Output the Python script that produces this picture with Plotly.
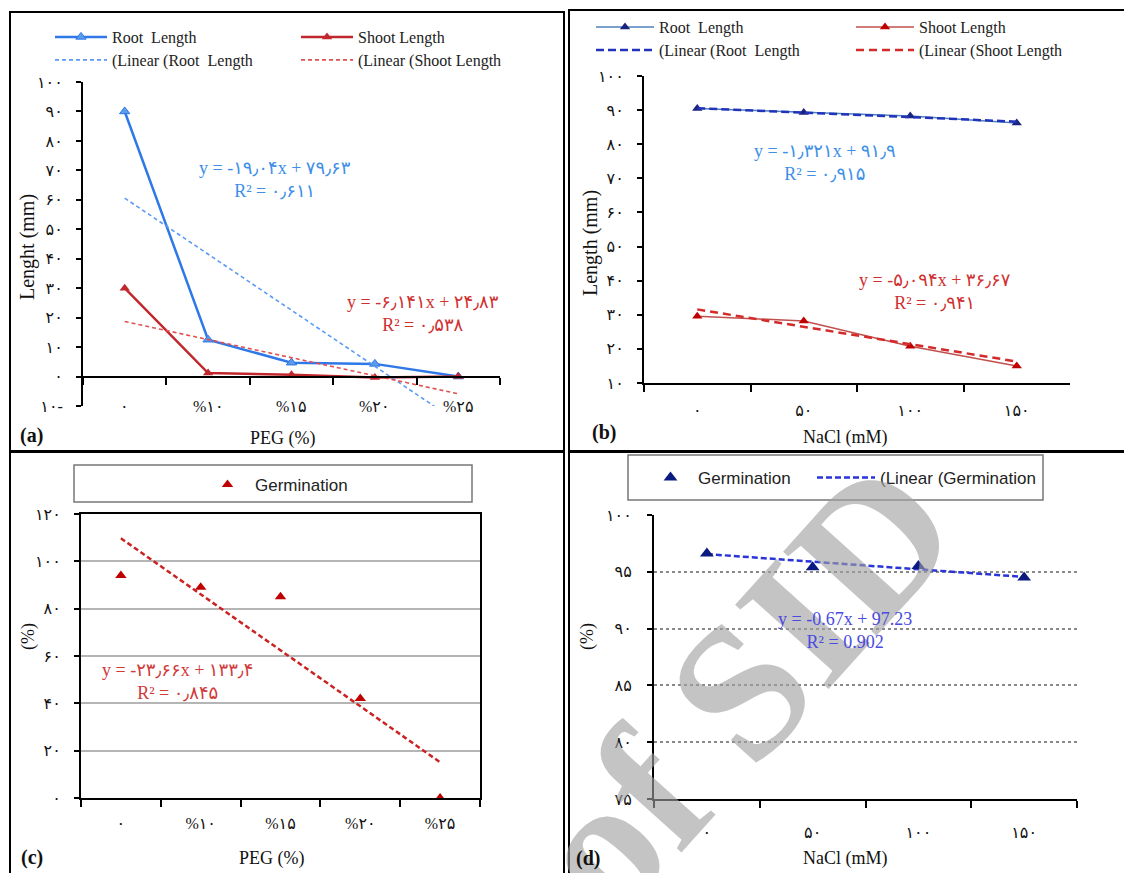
import plotly.graph_objects as go

W, H = 1124, 873

# ---------------- data ----------------
peg_labels = ["۰", "%۱۰", "%۱۵", "%۲۰", "%۲۵"]
nacl_labels = ["۰", "۵۰", "۱۰۰", "۱۵۰"]

root_peg = [90, 12.5, 4.7, 4.3, 0]
shoot_peg = [30, 1.2, 0.6, -0.3, 0]
root_peg_trend = [60.59, 41.55, 22.51, 3.47, -15.57]
shoot_peg_trend = [18.69, 12.55, 6.41, 0.27, -5.88]

root_nacl = [90.5, 89.3, 88.3, 86.2]
shoot_nacl = [29.6, 28.2, 20.8, 15.0]
root_nacl_trend = [90.58, 89.26, 87.94, 86.62]
shoot_nacl_trend = [31.58, 26.48, 21.39, 16.29]

germ_peg = [94, 89, 85, 42, 0]
germ_peg_trend = [109.74, 86.08, 62.42, 38.76, 15.10]

germ_nacl = [96.6, 95.4, 95.5, 94.5]
germ_nacl_trend = [96.56, 95.89, 95.22, 94.55]

a_yvals = [-10, 0, 10, 20, 30, 40, 50, 60, 70, 80, 90, 100]
a_ytext = ["۱۰-", "۰", "۱۰", "۲۰", "۳۰", "۴۰", "۵۰", "۶۰", "۷۰", "۸۰", "۹۰", "۱۰۰"]
b_yvals = [10, 20, 30, 40, 50, 60, 70, 80, 90, 100]
b_ytext = ["۱۰", "۲۰", "۳۰", "۴۰", "۵۰", "۶۰", "۷۰", "۸۰", "۹۰", "۱۰۰"]
c_yvals = [0, 20, 40, 60, 80, 100, 120]
c_ytext = ["۰", "۲۰", "۴۰", "۶۰", "۸۰", "۱۰۰", "۱۲۰"]
d_yvals = [75, 80, 85, 90, 95, 100]
d_ytext = ["۷۵", "۸۰", "۸۵", "۹۰", "۹۵", "۱۰۰"]


def px(p):
    return p / W


def py(p):
    return 1 - p / H


SERIF = "Liberation Serif, DejaVu Sans, serif"
SANS = "Liberation Sans, DejaVu Sans, sans-serif"
TICKFONT = dict(family=SERIF, size=16, color="#111")

fig = go.Figure()

# ---------------- panel a ----------------
fig.add_trace(go.Scatter(x=peg_labels, y=root_peg, mode="lines+markers", name="Root  Length",
                         line=dict(color="#2f78e8", width=2.5),
                         marker=dict(symbol="triangle-up", size=9, color="#5b9be8", line=dict(color="#2f78e8", width=1)),
                         xaxis="x", yaxis="y", legend="legend"))
fig.add_trace(go.Scatter(x=peg_labels, y=shoot_peg, mode="lines+markers", name="Shoot Length",
                         line=dict(color="#c0282d", width=2.5),
                         marker=dict(symbol="triangle-up", size=9, color="#c0282d"),
                         xaxis="x", yaxis="y", legend="legend2"))
fig.add_trace(go.Scatter(x=peg_labels, y=root_peg_trend, mode="lines", name="(Linear (Root  Length",
                         line=dict(color="#5b9bf5", width=1.6, dash="4px,3px"),
                         xaxis="x", yaxis="y", legend="legend3"))
fig.add_trace(go.Scatter(x=peg_labels, y=shoot_peg_trend, mode="lines", name="(Linear (Shoot Length",
                         line=dict(color="#e05050", width=1.6, dash="4px,3px"),
                         xaxis="x", yaxis="y", legend="legend4"))

# ---------------- panel b ----------------
fig.add_trace(go.Scatter(x=nacl_labels, y=root_nacl, mode="lines+markers", name="Root  Length",
                         line=dict(color="#4f81bd", width=1.5),
                         marker=dict(symbol="triangle-up", size=9, color="#1a237e"),
                         xaxis="x2", yaxis="y2", legend="legend5"))
fig.add_trace(go.Scatter(x=nacl_labels, y=shoot_nacl, mode="lines+markers", name="Shoot Length",
                         line=dict(color="#c0504d", width=1.5),
                         marker=dict(symbol="triangle-up", size=9, color="#c00000"),
                         xaxis="x2", yaxis="y2", legend="legend6"))
fig.add_trace(go.Scatter(x=nacl_labels, y=root_nacl_trend, mode="lines", name="(Linear (Root  Length",
                         line=dict(color="#2233bb", width=2.5, dash="8px,4px"),
                         xaxis="x2", yaxis="y2", legend="legend7"))
fig.add_trace(go.Scatter(x=nacl_labels, y=shoot_nacl_trend, mode="lines", name="(Linear (Shoot Length",
                         line=dict(color="#d42a2a", width=2.5, dash="8px,5px"),
                         xaxis="x2", yaxis="y2", legend="legend8"))

# ---------------- panel c ----------------
fig.add_trace(go.Scatter(x=peg_labels, y=germ_peg_trend, mode="lines", name="Linear (Germination)",
                         line=dict(color="#cc2222", width=2.5, dash="5px,3px"),
                         xaxis="x3", yaxis="y3", showlegend=False))
fig.add_trace(go.Scatter(x=peg_labels, y=germ_peg, mode="markers", name="Germination",
                         marker=dict(symbol="triangle-up", size=10, color="#c00000"),
                         xaxis="x3", yaxis="y3", legend="legend9"))

# ---------------- panel d ----------------
fig.add_trace(go.Scatter(x=nacl_labels, y=germ_nacl_trend, mode="lines", name="(Linear (Germination",
                         line=dict(color="#2a35d8", width=2.5, dash="6px,3px"),
                         xaxis="x4", yaxis="y4", legend="legend11"))
fig.add_trace(go.Scatter(x=nacl_labels, y=germ_nacl, mode="markers", name="Germination",
                         marker=dict(symbol="triangle-up", size=12, color="#0b1a80"),
                         xaxis="x4", yaxis="y4", legend="legend10"))

axis_common = dict(showline=True, linecolor="black", linewidth=2, zeroline=False,
                   tickcolor="black", tickwidth=2, tickfont=TICKFONT, fixedrange=True)

layout = dict(
    width=W, height=H, autosize=False,
    margin=dict(l=0, r=0, t=0, b=0, pad=0, autoexpand=False),
    paper_bgcolor="white", plot_bgcolor="white",
    font=dict(family=SERIF, color="#111"),
    # panel a
    xaxis=dict(axis_common, domain=[px(83), px(500)], type="category", range=[-0.5, 4.5],
               anchor="free", position=py(377), ticks="outside", tickson="boundaries", ticklen=7,
               showticklabels=False, showgrid=False),
    yaxis=dict(axis_common, domain=[py(406), py(82)], range=[-10, 100], tickvals=a_yvals, ticktext=a_ytext,
               ticks="outside", ticklen=5, showgrid=False, anchor="x", ticklabelstandoff=10),
    # panel b
    xaxis2=dict(axis_common, domain=[px(644), px(1070)], type="category", range=[-0.5, 3.5],
                anchor="y2", ticks="outside", tickson="boundaries", ticklen=7, showgrid=False,
                ticklabelstandoff=12),
    yaxis2=dict(axis_common, domain=[py(383), py(76)], range=[10, 100], tickvals=b_yvals, ticktext=b_ytext,
                ticks="outside", ticklen=5, showgrid=False, anchor="x2", ticklabelstandoff=10),
    # panel c
    xaxis3=dict(axis_common, domain=[px(81), px(480)], type="category", range=[-0.5, 4.5],
                anchor="y3", ticks="outside", tickson="boundaries", ticklen=7, showgrid=False,
                mirror=True, ticklabelstandoff=10),
    yaxis3=dict(axis_common, domain=[py(798), py(514)], range=[0, 120], tickvals=c_yvals, ticktext=c_ytext,
                ticks="outside", ticklen=5, showgrid=True, gridcolor="#b5b5b5", gridwidth=2,
                anchor="x3", mirror=True, ticklabelstandoff=10),
    # panel d
    xaxis4=dict(axis_common, domain=[px(654), px(1077)], type="category", range=[-0.5, 3.5],
                anchor="y4", ticks="outside", tickson="boundaries", ticklen=7, showgrid=False,
                ticklabelstandoff=18),
    yaxis4=dict(axis_common, domain=[py(799), py(515)], range=[75, 100], tickvals=d_yvals, ticktext=d_ytext,
                ticks="outside", ticklen=5, showgrid=True, gridcolor="#888", gridwidth=1.5, griddash="dot",
                anchor="x4", ticklabelstandoff=12),
)


def leg(xp, yp, size=16, family=SERIF, itemwidth=30):
    return dict(x=px(xp), y=py(yp), xanchor="left", yanchor="middle", bgcolor="rgba(0,0,0,0)",
                borderwidth=0, font=dict(family=family, size=size, color="#222"), itemwidth=itemwidth,
                orientation="h")


layout["legend"] = leg(50, 37, itemwidth=52)
layout["legend2"] = leg(296, 37, itemwidth=52)
layout["legend3"] = leg(50, 60, itemwidth=52)
layout["legend4"] = leg(296, 60, itemwidth=52)
layout["legend5"] = leg(591, 27, itemwidth=58)
layout["legend6"] = leg(851, 27, itemwidth=58)
layout["legend7"] = leg(591, 50, itemwidth=58)
layout["legend8"] = leg(851, 50, itemwidth=58)
layout["legend9"] = leg(200, 485, 17, SANS, itemwidth=45)
layout["legend10"] = leg(643, 478, 17, SANS, itemwidth=45)
layout["legend11"] = leg(812, 478, 17, SANS, itemwidth=58)

fig.update_layout(**layout)

# ---------------- annotations ----------------
ann = []
for i, lab in enumerate(peg_labels):
    ann.append(dict(x=i, y=-10, xref="x", yref="y", text=lab, showarrow=False,
                    font=TICKFONT, xanchor="center", yanchor="middle"))


def txt(xp, yp, text, size=18, color="#111", family=SERIF, angle=0, bold=False, align="center"):
    if bold:
        text = "<b>" + text + "</b>"
    return dict(x=px(xp), y=py(yp), xref="paper", yref="paper", text=text, showarrow=False,
                font=dict(family=family, size=size, color=color), textangle=angle,
                xanchor="center", yanchor="middle", align=align)


# watermark (drawn first so other texts sit on top)
ann.insert(0, dict(x=px(742), y=py(688), xref="paper", yref="paper", text="<b>of SID</b>", showarrow=False,
                   font=dict(family=SERIF, size=192, color="rgba(160,160,160,0.62)"), textangle=-48,
                   xanchor="center", yanchor="middle"))

# axis titles
ann += [
    txt(27, 247, "Lenght (mm)", 20, angle=-90),
    txt(283, 438, "PEG (%)", 18),
    txt(590, 243, "Length (mm)", 20, angle=-90),
    txt(845, 437, "NaCl (mM)", 18),
    txt(28, 637, "(%)", 18, angle=-90),
    txt(272, 858, "PEG (%)", 18),
    txt(587, 637, "(%)", 18, angle=-90),
    txt(845, 858, "NaCl (mM)", 18),
]
# panel letters
ann += [
    txt(31, 435, "(a)", 20, bold=True),
    txt(604, 432, "(b)", 20, bold=True),
    txt(32, 857, "(c)", 20, bold=True),
    txt(588, 858, "(d)", 20, bold=True),
]
# equations
ann += [
    txt(275, 180, "y = -۱۹٫۰۴x + ۷۹٫۶۳<br>R² = ۰٫۶۱۱", 18, "#3d8fe8"),
    txt(423, 313, "y = -۶٫۱۴۱x + ۲۴٫۸۳<br>R² = ۰٫۵۳۸", 18, "#d03030"),
    txt(825, 162, "y = -۱٫۳۲۱x + ۹۱٫۹<br>R² = ۰٫۹۱۵", 18, "#3d8fe8"),
    txt(935, 292, "y = -۵٫۰۹۴x + ۳۶٫۶۷<br>R² = ۰٫۹۴۱", 18, "#d03030"),
    txt(177, 681, "y = -۲۳٫۶۶x + ۱۳۳٫۴<br>R² = ۰٫۸۴۵", 18, "#d03a3a"),
    txt(845, 630, "y = -0.67x + 97.23<br>R² = 0.902", 18, "#4b4be0"),
]

fig.update_layout(annotations=ann)

# panel frames and legend boxes
shapes = [
    dict(type="rect", xref="paper", yref="paper", x0=px(10), x1=px(564), y0=py(451), y1=py(12),
         line=dict(color="black", width=2)),
    dict(type="rect", xref="paper", yref="paper", x0=px(569), x1=px(1130), y0=py(451), y1=py(10),
         line=dict(color="black", width=2)),
    dict(type="rect", xref="paper", yref="paper", x0=px(10), x1=px(564), y0=py(880), y1=py(452),
         line=dict(color="black", width=2)),
    dict(type="rect", xref="paper", yref="paper", x0=px(569), x1=px(1130), y0=py(880), y1=py(452),
         line=dict(color="black", width=2)),
    dict(type="rect", xref="paper", yref="paper", x0=px(74), x1=px(472), y0=py(502), y1=py(465),
         line=dict(color="#777", width=1.5)),
    dict(type="rect", xref="paper", yref="paper", x0=px(628), x1=px(1043), y0=py(500), y1=py(455),
         line=dict(color="#777", width=1.5)),
]
fig.update_layout(shapes=shapes)

post = ("var gd=document.getElementById('{plot_id}');"
        "document.documentElement.style.margin='0';document.body.style.margin='0';"
        "document.body.style.padding='0';document.body.style.overflow='hidden';"
        "gd.style.position='fixed';gd.style.left='0px';gd.style.top='0px';")

fig.write_html("out.html", post_script=post, config={"displayModeBar": False})
